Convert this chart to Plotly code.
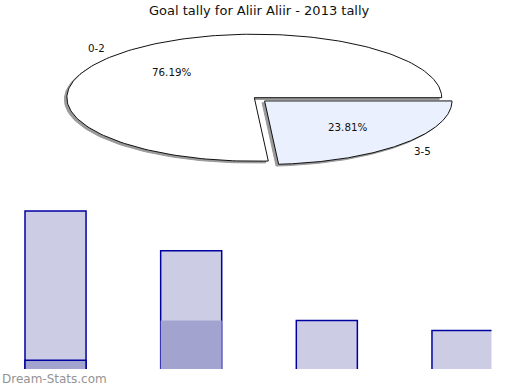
import numpy as np
import plotly.graph_objects as go

# ---- data ----
title_text = "Goal tally for Aliir Aliir - 2013 tally"
pie_labels = ["3-5", "0-2"]          # clockwise from 3 o'clock
pie_values = [5, 16]
pie_explode = [0.075, 0.0]
pie_colors = ["#EAF0FD", "#FFFFFF"]

bar_categories = ["A", "B", "C", "D"]
bar_total = [16, 12, 5, 4]
bar_part = [1, 5, 0, 0]
watermark = "Dream-Stats.com"

# ---- styles ----
W, H = 520, 390
cx, cy, rx, ry = 254.3, 97.7, 187.4, 63.5
shadow_dx, shadow_dy = -2.5, 1.8
font = "DejaVu Sans"

fig = go.Figure()

total = sum(pie_values)
start = 0.0
slices = []
for lab, val, ex, col in zip(pie_labels, pie_values, pie_explode, pie_colors):
    span = 2 * np.pi * val / total
    mid = start + span / 2
    ox = ex * rx * np.cos(mid)
    oy = ex * ry * np.sin(mid)
    t = np.linspace(start, start + span, 200)
    xs = np.concatenate([[cx + ox], cx + ox + rx * np.cos(t), [cx + ox]])
    ys = np.concatenate([[cy + oy], cy + oy + ry * np.sin(t), [cy + oy]])
    slices.append((lab, val, mid, ox, oy, xs, ys, col))
    start += span

# draw larger slice first, exploded after
for lab, val, mid, ox, oy, xs, ys, col in sorted(slices, key=lambda s: s[3] ** 2 + s[4] ** 2):
    fig.add_trace(go.Scatter(x=xs + shadow_dx, y=ys + shadow_dy, mode="lines",
                             fill="toself", fillcolor="#9a9a9a",
                             line=dict(color="#9a9a9a", width=1),
                             xaxis="x2", yaxis="y2", hoverinfo="skip", showlegend=False))
    fig.add_trace(go.Scatter(x=xs, y=ys, mode="lines", fill="toself", fillcolor=col,
                             line=dict(color="#111111", width=1),
                             xaxis="x2", yaxis="y2", hoverinfo="skip", showlegend=False))

annotations = []
for lab, val, mid, ox, oy, xs, ys, col in slices:
    pct = 100.0 * val / total
    annotations.append(dict(x=cx + ox + 0.6 * rx * np.cos(mid), y=cy + oy + 0.6 * ry * np.sin(mid),
                            xref="x2", yref="y2", text=f"{pct:.2f}%", showarrow=False,
                            font=dict(family=font, size=10.3, color="#111")))
    annotations.append(dict(x=cx + ox + 1.15 * rx * np.cos(mid), y=cy + oy + 1.15 * ry * np.sin(mid),
                            xref="x2", yref="y2", text=lab, showarrow=False,
                            font=dict(family=font, size=10.3, color="#111")))

annotations.append(dict(x=259.5 / W, y=1 - 10 / H, xref="paper", yref="paper", text=title_text,
                        showarrow=False, xanchor="center", yanchor="middle",
                        font=dict(family=font, size=13, color="#111")))
annotations.append(dict(x=0, y=1 - 379 / H, xref="paper", yref="paper", text=watermark,
                        showarrow=False, xanchor="left", yanchor="middle",
                        font=dict(family=font, size=12, color="#949494")))

xs_bar = list(range(len(bar_categories)))
fig.add_trace(go.Bar(x=xs_bar, y=bar_total, width=0.45,
                     marker=dict(color="#CCCCE4", line=dict(color="#0000A0", width=1.5)),
                     showlegend=False, hoverinfo="skip"))
fig.add_trace(go.Bar(x=xs_bar, y=bar_part, width=0.45,
                     marker=dict(color="#A3A3D0",
                                 line=dict(color="#0000A0", width=[1.5, 0, 0, 0])),
                     showlegend=False, hoverinfo="skip"))

spacing = 135.6
right_px = 491.5
fig.update_layout(
    width=W, height=H, margin=dict(l=0, r=0, t=0, b=0),
    paper_bgcolor="white", plot_bgcolor="rgba(0,0,0,0)",
    barmode="overlay", annotations=annotations,
    xaxis=dict(domain=[0, right_px / W],
               range=[-55.5 / spacing, 3 + (right_px - 462.5) / spacing], visible=False),
    yaxis=dict(domain=[21 / H, 200 / H], range=[0.12, 18.12], visible=False),
    xaxis2=dict(domain=[0, 1], range=[0, W], visible=False, anchor="y2"),
    yaxis2=dict(domain=[190 / H, 1], range=[200, 0], visible=False, anchor="x2"),
)

fig.write_html("out.html")
